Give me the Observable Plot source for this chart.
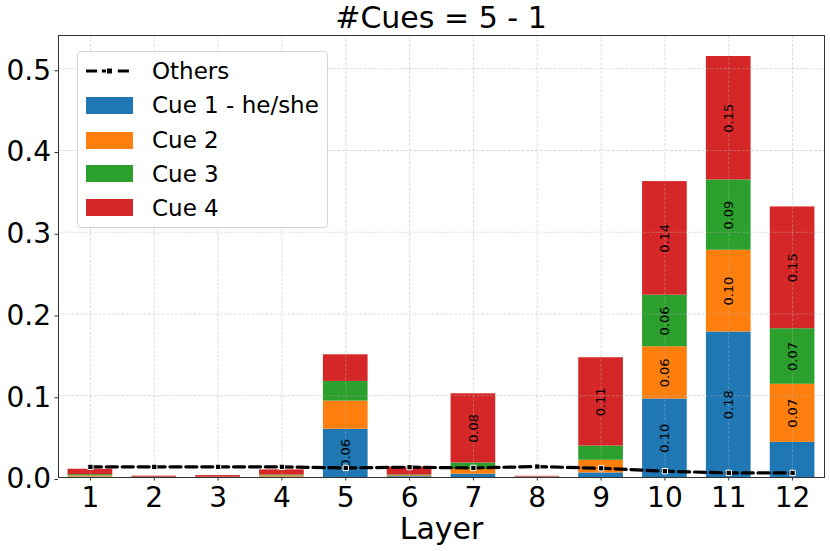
<!DOCTYPE html>
<html>
<head>
<meta charset="utf-8">
<script src="https://cdn.jsdelivr.net/npm/d3@7"></script>
<script src="https://cdn.jsdelivr.net/npm/@observablehq/plot@0.6"></script>
<style>
  body { margin: 0; background: #fff; font-family: "DejaVu Sans", sans-serif; }
  #wrap { position: relative; width: 830px; height: 551px; overflow: hidden; }
  #title { position: absolute; left: 58px; width: 766px; top: 0px; height: 35px; line-height: 35px;
           text-align: center; font-size: 30px; color: #000; white-space: nowrap; }
  #chart { position: absolute; left: 0; top: 30px; }
  #legend { position: absolute; left: 77px; top: 51px; width: 251px; height: 177px; box-sizing: border-box;
            border: 1px solid #d5d5d5; border-radius: 4px; background: rgba(255,255,255,0.9); }
  .row { position: absolute; left: 0; height: 34px; display: flex; align-items: center; font-size: 23px; color: #000; white-space: nowrap; }
  .sample { position: absolute; left: 8px; width: 47px; }
  .lab { position: absolute; left: 74px; }
</style>
</head>
<body>
<div id="wrap">
  <div id="chart"></div>
  <div id="title"></div>
  <div id="legend"></div>
</div>
<script>
const title = "#Cues = 5 - 1";
const layers = [1, 2, 3, 4, 5, 6, 7, 8, 9, 10, 11, 12];
const cueNames = ["Cue 1 - he/she", "Cue 2", "Cue 3", "Cue 4"];
const cueColors = ["#1f77b4", "#ff7f0e", "#2ca02c", "#d62728"];
const cue1 = [0.0005, 0.0001, 0.0001, 0.0005, 0.059, 0.001, 0.004, 0.0002, 0.0056, 0.096, 0.178, 0.043];
const cue2 = [0.0015, 0.0001, 0.0001, 0.0015, 0.0345, 0.001, 0.0058, 0.0002, 0.0155, 0.064, 0.100, 0.071];
const cue3 = [0.0015, 0.0001, 0.0002, 0.0010, 0.024, 0.001, 0.008, 0.0002, 0.0174, 0.063, 0.086, 0.068];
const cue4 = [0.0066, 0.0013, 0.0020, 0.0063, 0.0326, 0.0099, 0.0846, 0.0008, 0.108, 0.139, 0.151, 0.149];
const others = [0.0130, 0.0130, 0.0130, 0.0130, 0.0117, 0.0126, 0.0117, 0.0134, 0.0113, 0.0077, 0.0056, 0.0056];
const yTicks = [0, 0.1, 0.2, 0.3, 0.4, 0.5];
const othersLabel = "Others";
const xLabel = "Layer";
const labelThreshold = 0.05;
const barWidth = 0.7;

document.getElementById("title").textContent = title;

// build stacked table
const series = [cue1, cue2, cue3, cue4];
const stacked = [];
layers.forEach((L, i) => {
  let base = 0;
  series.forEach((s, k) => {
    stacked.push({layer: L, cue: cueNames[k], value: s[i], y1: base, y2: base + s[i]});
    base += s[i];
  });
});
const othersData = layers.map((L, i) => ({layer: L, value: others[i]}));
const labelData = stacked.filter(d => d.value > labelThreshold);

const chart = Plot.plot({
  width: 830,
  height: 521,
  marginLeft: 58,
  marginRight: 6,
  marginTop: 5,
  marginBottom: 74,
  style: {fontFamily: "DejaVu Sans, sans-serif", background: "transparent", color: "#000"},
  x: {domain: [0.5, 12.5]},
  y: {domain: [0, 0.5407]},
  color: {domain: cueNames, range: cueColors},
  marks: [
    Plot.rect(stacked, {
      x1: d => d.layer - barWidth / 2,
      x2: d => d.layer + barWidth / 2,
      y1: "y1", y2: "y2", fill: "cue"
    }),
    Plot.gridX(layers, {stroke: "#b0b0b0", strokeOpacity: 0.55, strokeWidth: 0.8, strokeDasharray: "3,1.5"}),
    Plot.gridY(yTicks, {stroke: "#b0b0b0", strokeOpacity: 0.55, strokeWidth: 0.8, strokeDasharray: "3,1.5"}),
    Plot.text(labelData, {
      x: "layer", y: d => (d.y1 + d.y2) / 2, text: d => d.value.toFixed(2),
      rotate: -90, fontSize: 13, fill: "#000"
    }),
    Plot.line(othersData, {x: "layer", y: "value", stroke: "#000", strokeWidth: 3.2, strokeDasharray: "11.1,4.8"}),
    Plot.dot(othersData, {x: "layer", y: "value", symbol: "square", r: 3, fill: "#000", stroke: "#fff", strokeWidth: 1}),
    Plot.frame({stroke: "#333", strokeWidth: 1}),
    Plot.axisX(layers, {tickSize: 3.5, tickPadding: 6, fontSize: 28, label: null, tickFormat: d => String(d), stroke: "#333"}),
    Plot.axisY(yTicks, {tickSize: 3.5, tickPadding: 4, fontSize: 28, label: null, tickFormat: d => d.toFixed(1), stroke: "#333", dy: 2}),
    Plot.text([xLabel], {frameAnchor: "bottom", dy: 61, fontSize: 30, text: d => d, fill: "#000"})
  ]
});
document.getElementById("chart").appendChild(chart);

// legend
const legend = document.getElementById("legend");
const rowCenters = [19, 53.3, 88, 121.7, 155.7];
const entries = [{name: othersLabel, kind: "line"}].concat(cueNames.map((n, k) => ({name: n, kind: "patch", color: cueColors[k]})));
entries.forEach((e, i) => {
  const row = document.createElement("div");
  row.className = "row";
  row.style.top = (rowCenters[i] - 17) + "px";
  row.style.width = "249px";
  let sample;
  if (e.kind === "line") {
    sample = document.createElementNS("http://www.w3.org/2000/svg", "svg");
    sample.setAttribute("width", 47); sample.setAttribute("height", 12);
    sample.setAttribute("class", "sample");
    sample.style.top = "11px";
    sample.innerHTML = '<line x1="0" x2="47" y1="6" y2="6" stroke="#000" stroke-width="3.2" stroke-dasharray="11.1,4.8"/>' +
      '<rect x="20.5" y="3" width="6" height="6" fill="#000" stroke="#fff" stroke-width="1"/>';
  } else {
    sample = document.createElement("div");
    sample.className = "sample";
    sample.style.height = "17px";
    sample.style.top = "8.5px";
    sample.style.background = e.color;
  }
  row.appendChild(sample);
  const lab = document.createElement("span");
  lab.className = "lab";
  lab.textContent = e.name;
  row.appendChild(lab);
  legend.appendChild(row);
});
</script>
</body>
</html>
